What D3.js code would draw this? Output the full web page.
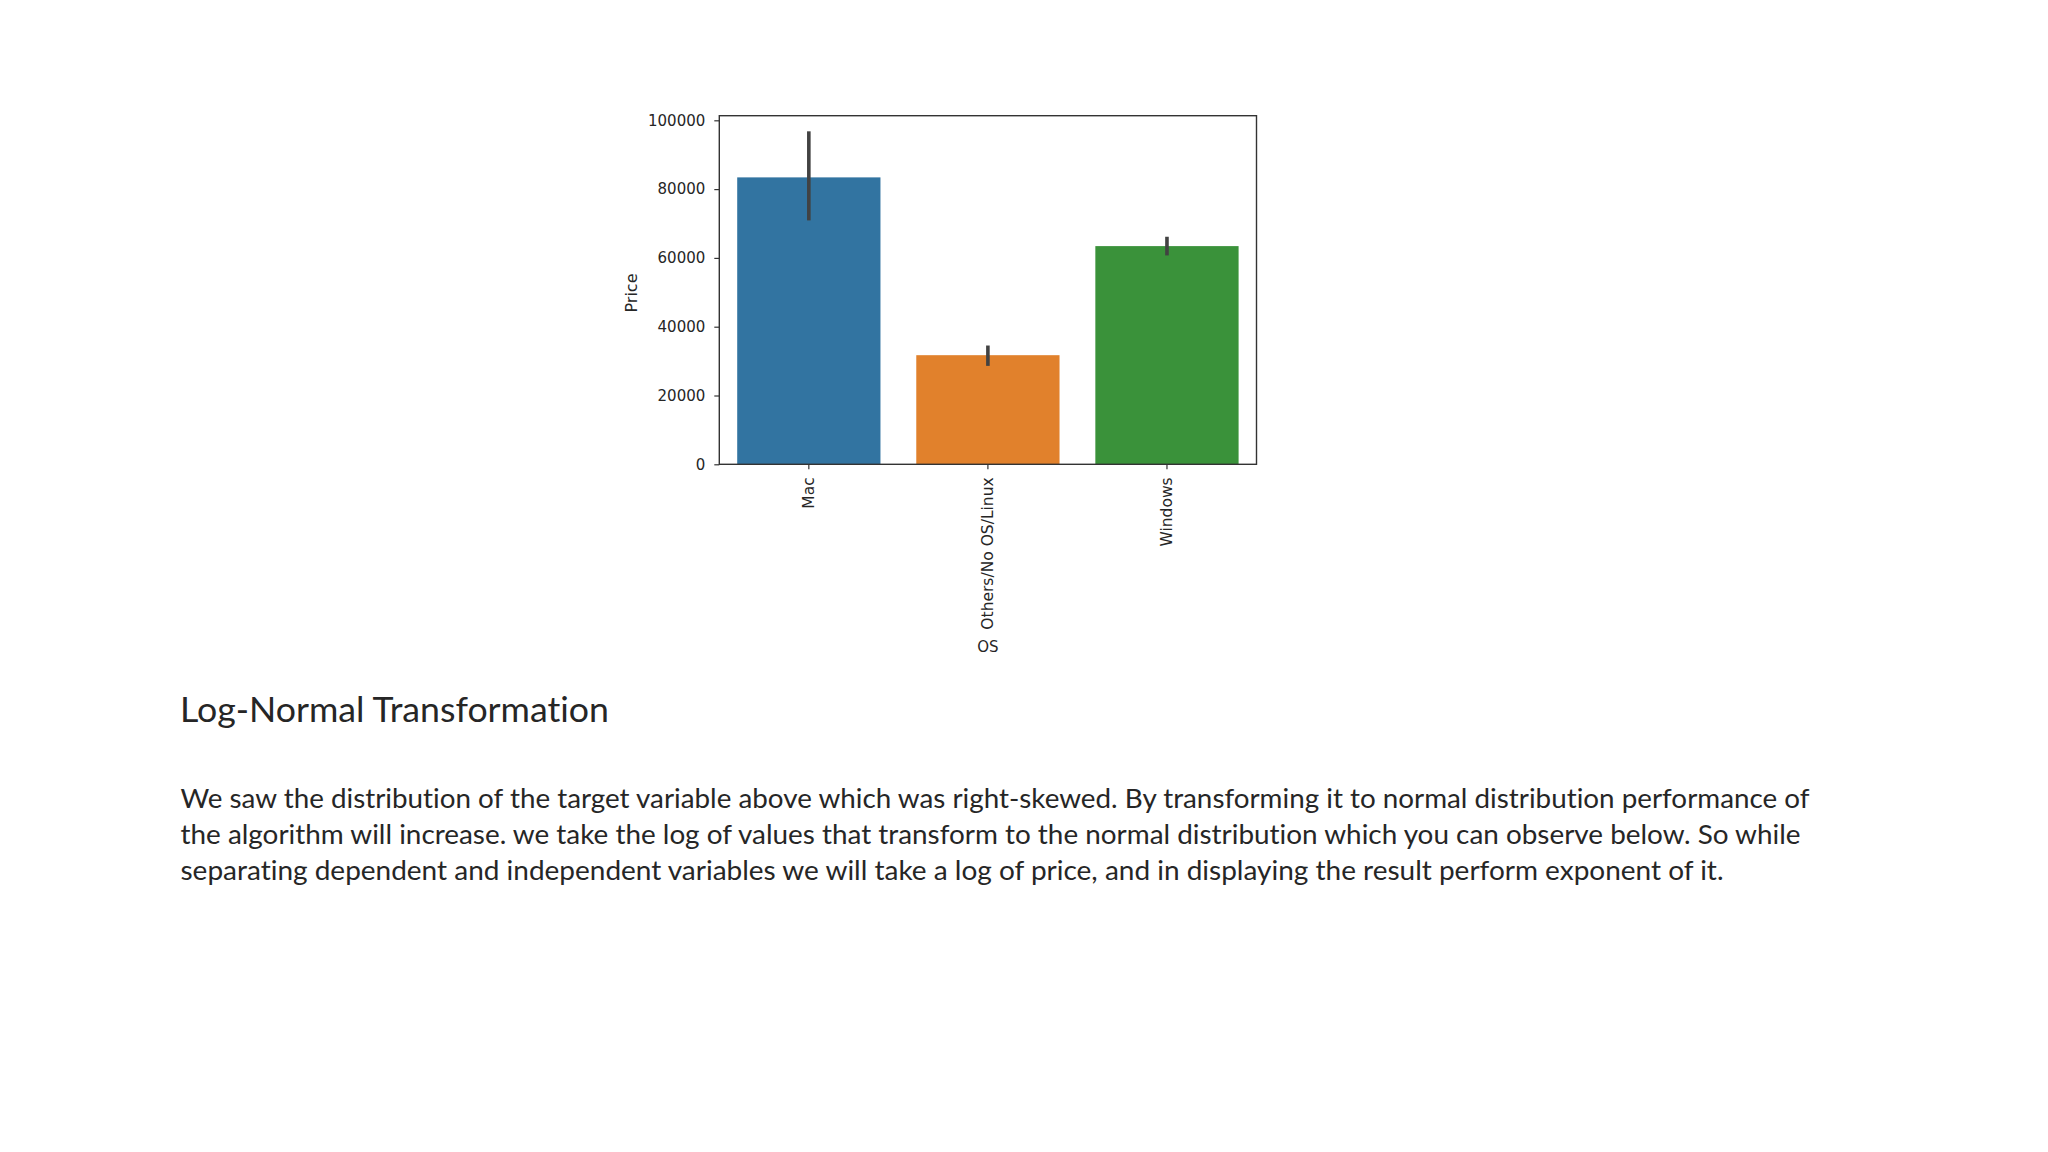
<!DOCTYPE html>
<html>
<head>
<meta charset="utf-8">
<script src="https://cdn.jsdelivr.net/npm/d3@7"></script>
<style>
  html, body { margin: 0; padding: 0; background: #ffffff; }
  svg { display: block; }
  text { font-variant-ligatures: none; font-feature-settings: "liga" 0, "clig" 0; }
</style>
</head>
<body>
<svg id="chart" width="2048" height="1152"></svg>
<script>
// ---- data ----
const categories = ["Mac", "Others/No OS/Linux", "Windows"];
const meanPrice = [83410, 31720, 63430];
const ciLow = [70900, 28610, 60720];
const ciHigh = [96800, 34530, 66150];
const barColors = ["#3274a1", "#e1812c", "#3a923a"];
const yTicks = [0, 20000, 40000, 60000, 80000, 100000];
const yLabel = "Price";
const xLabel = "OS";
const title = "Log-Normal Transformation";
const bodyLines = [
  "We saw the distribution of the target variable above which was right-skewed. By transforming it to normal distribution performance of",
  "the algorithm will increase. we take the log of values that transform to the normal distribution which you can observe below. So while",
  "separating dependent and independent variables we will take a log of price, and in displaying the result perform exponent of it."
];

// ---- layout ----
const svg = d3.select("#chart");
const plot = { left: 719.3, right: 1256.5, top: 115.7, bottom: 464.3 };
const tickFont = "'DejaVu Sans', sans-serif";
const inkColor = "#262626";

const x = d3.scaleBand()
  .domain(categories)
  .range([plot.left, plot.right])
  .paddingInner(0.2)
  .paddingOuter(0.1);

const y = d3.scaleLinear()
  .domain([0, 101340])
  .range([plot.bottom, plot.top]);

const data = categories.map((c, i) => ({ c, v: meanPrice[i], lo: ciLow[i], hi: ciHigh[i], color: barColors[i] }));

// clip for the chart image (the OS label is cut at the image bottom)
svg.append("defs").append("clipPath").attr("id", "imgclip")
  .append("rect").attr("x", 560).attr("y", 90).attr("width", 720).attr("height", 563);

const g = svg.append("g").attr("clip-path", "url(#imgclip)");

// bars
g.selectAll("rect.bar").data(data).join("rect")
  .attr("class", "bar")
  .attr("x", d => x(d.c))
  .attr("width", x.bandwidth())
  .attr("y", d => y(d.v))
  .attr("height", d => y(0) - y(d.v))
  .attr("fill", d => d.color);

// error bars
g.selectAll("line.err").data(data).join("line")
  .attr("class", "err")
  .attr("x1", d => x(d.c) + x.bandwidth() / 2)
  .attr("x2", d => x(d.c) + x.bandwidth() / 2)
  .attr("y1", d => y(d.lo))
  .attr("y2", d => y(d.hi))
  .attr("stroke", "#424242")
  .attr("stroke-width", 3.6);

// y axis
const yAxis = d3.axisLeft(y).tickValues(yTicks).tickFormat(d3.format("d")).tickSize(5).tickPadding(9);
const yg = g.append("g").attr("transform", `translate(${plot.left},0)`).call(yAxis);
yg.select(".domain").remove();
yg.selectAll(".tick line").attr("stroke", "#333").attr("stroke-width", 1.2);
yg.selectAll(".tick text").attr("fill", inkColor).style("font-family", tickFont).style("font-size", "15px");

// x axis
const xAxis = d3.axisBottom(x).tickSize(5).tickPadding(0);
const xg = g.append("g").attr("transform", `translate(0,${plot.bottom})`).call(xAxis);
xg.select(".domain").remove();
xg.selectAll(".tick line").attr("stroke", "#333").attr("stroke-width", 1.2);
xg.selectAll(".tick text")
  .attr("fill", inkColor)
  .style("font-family", tickFont).style("font-size", "15.5px")
  .attr("text-anchor", "end")
  .attr("dy", "0.35em")
  .attr("transform", "translate(0,13) rotate(-90)")
  .attr("y", 0).attr("x", 0);

// frame
g.append("rect")
  .attr("x", plot.left).attr("y", plot.top)
  .attr("width", plot.right - plot.left).attr("height", plot.bottom - plot.top)
  .attr("fill", "none").attr("stroke", "#333").attr("stroke-width", 1.4);

// axis labels
g.append("text")
  .attr("transform", `translate(637,${(plot.top + plot.bottom) / 2 + 3}) rotate(-90)`)
  .attr("text-anchor", "middle")
  .attr("fill", inkColor)
  .style("font-family", tickFont).style("font-size", "16px")
  .text(yLabel);

g.append("text")
  .attr("x", x(categories[1]) + x.bandwidth() / 2)
  .attr("y", 652)
  .attr("text-anchor", "middle")
  .attr("fill", inkColor)
  .style("font-family", tickFont).style("font-size", "15px")
  .text(xLabel);

// slide text
const slideFont = "Lato, 'Open Sans', sans-serif";
svg.append("text")
  .attr("x", 180).attr("y", 721.7)
  .attr("fill", "#262626")
  .style("font-family", slideFont).style("font-size", "35px")
  .attr("textLength", 429).attr("lengthAdjust", "spacingAndGlyphs")
  .text(title);

const lineWidths = [1629, 1620, 1543];
svg.selectAll("text.body").data(bodyLines).join("text")
  .attr("class", "body")
  .attr("x", 180.5)
  .attr("y", (d, i) => 808.3 + i * 36)
  .attr("fill", "#262626")
  .style("font-family", slideFont).style("font-size", "26.5px")
  .attr("textLength", (d, i) => lineWidths[i]).attr("lengthAdjust", "spacingAndGlyphs")
  .text(d => d);
</script>
</body>
</html>
